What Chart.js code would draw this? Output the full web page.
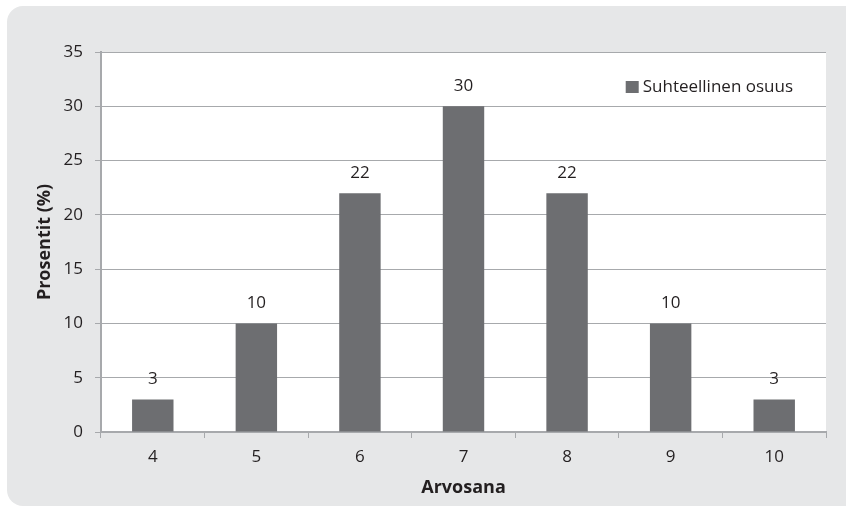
<!DOCTYPE html>
<html>
<head>
<meta charset="utf-8">
<script src="https://cdn.jsdelivr.net/npm/chart.js@4.4.1/dist/chart.umd.min.js"></script>
<style>
  html, body { margin: 0; padding: 0; background: #ffffff; }
  #wrap { width: 846px; height: 507px; }
</style>
</head>
<body>
<div id="wrap"><canvas id="chart" width="846" height="507"></canvas></div>
<script>
// chart data
const grades = ["4", "5", "6", "7", "8", "9", "10"];
const shares = [3, 10, 22, 30, 22, 10, 3];
const seriesName = "Suhteellinen osuus";
const yTitle = "Prosentit (%)";
const xTitle = "Arvosana";

const FONT = "'Open Sans', 'Noto Sans', sans-serif";
const TEXT = "#231f20";
const BAR = "#6d6e71";
const GRID = "#a7a9ac";

// gray rounded panel behind everything, white plot area
const panelPlugin = {
  id: "panel",
  beforeDraw(chart) {
    const ctx = chart.ctx;
    const a = chart.chartArea;
    ctx.save();
    ctx.fillStyle = "#ffffff";
    ctx.fillRect(0, 0, chart.width, chart.height);
    ctx.fillStyle = "#e6e7e8";
    ctx.beginPath();
    ctx.roundRect(7, 6, chart.width + 20, chart.height - 7, 16);
    ctx.fill();
    ctx.fillStyle = "#ffffff";
    ctx.fillRect(a.left, a.top, a.right - a.left, a.bottom - a.top);
    ctx.restore();
  },
};

// value labels above bars + legend inside plot
const labelPlugin = {
  id: "labels",
  afterDatasetsDraw(chart) {
    const ctx = chart.ctx;
    const meta = chart.getDatasetMeta(0);
    ctx.save();
    ctx.font = "17px " + FONT;
    ctx.fillStyle = TEXT;
    ctx.textAlign = "center";
    ctx.textBaseline = "middle";
    meta.data.forEach((bar, i) => {
      ctx.fillText(String(shares[i]), bar.x, bar.y - 20);
    });

    // legend
    const a = chart.chartArea;
    const label = chart.data.datasets[0].label;
    const tw = ctx.measureText(label).width;
    const right = a.right - 33;
    const textX = right - tw;
    const cy = a.top + 35;
    ctx.textAlign = "left";
    ctx.fillText(label, textX, cy);
    ctx.fillStyle = BAR;
    ctx.fillRect(textX - 17, cy - 6, 13, 12);
    ctx.restore();
  },
};

const ctx = document.getElementById("chart").getContext("2d");
new Chart(ctx, {
  type: "bar",
  data: {
    labels: grades,
    datasets: [
      {
        label: seriesName,
        data: shares,
        backgroundColor: BAR,
        borderWidth: 0,
        categoryPercentage: 1,
        barPercentage: 0.4,
      },
    ],
  },
  options: {
    responsive: false,
    animation: false,
    layout: { padding: { left: 0, top: 52, right: 20, bottom: 0 } },
    plugins: {
      legend: { display: false },
      tooltip: { enabled: false },
    },
    scales: {
      y: {
        min: 0,
        max: 35,
        ticks: {
          stepSize: 5,
          color: TEXT,
          padding: 12,
          font: { family: FONT, size: 17 },
        },
        grid: { color: GRID, lineWidth: 1, tickLength: 6 },
        border: { color: GRID, width: 2 },
        title: {
          display: true,
          text: yTitle,
          color: TEXT,
          padding: { top: 34 },
          font: { family: FONT, size: 18, weight: "bold" },
        },
        afterFit(scale) {
          scale.width = 101;
        },
      },
      x: {
        ticks: {
          color: TEXT,
          padding: 9,
          font: { family: FONT, size: 17 },
        },
        grid: {
          offset: true,
          drawOnChartArea: false,
          color: GRID,
          tickLength: 6,
        },
        border: { color: GRID, width: 2 },
        title: {
          display: true,
          text: xTitle,
          color: TEXT,
          padding: { bottom: 8 },
          font: { family: FONT, size: 18, weight: "bold" },
        },
        afterFit(scale) {
          scale.height = 75;
        },
      },
    },
  },
  plugins: [panelPlugin, labelPlugin],
});
</script>
</body>
</html>
